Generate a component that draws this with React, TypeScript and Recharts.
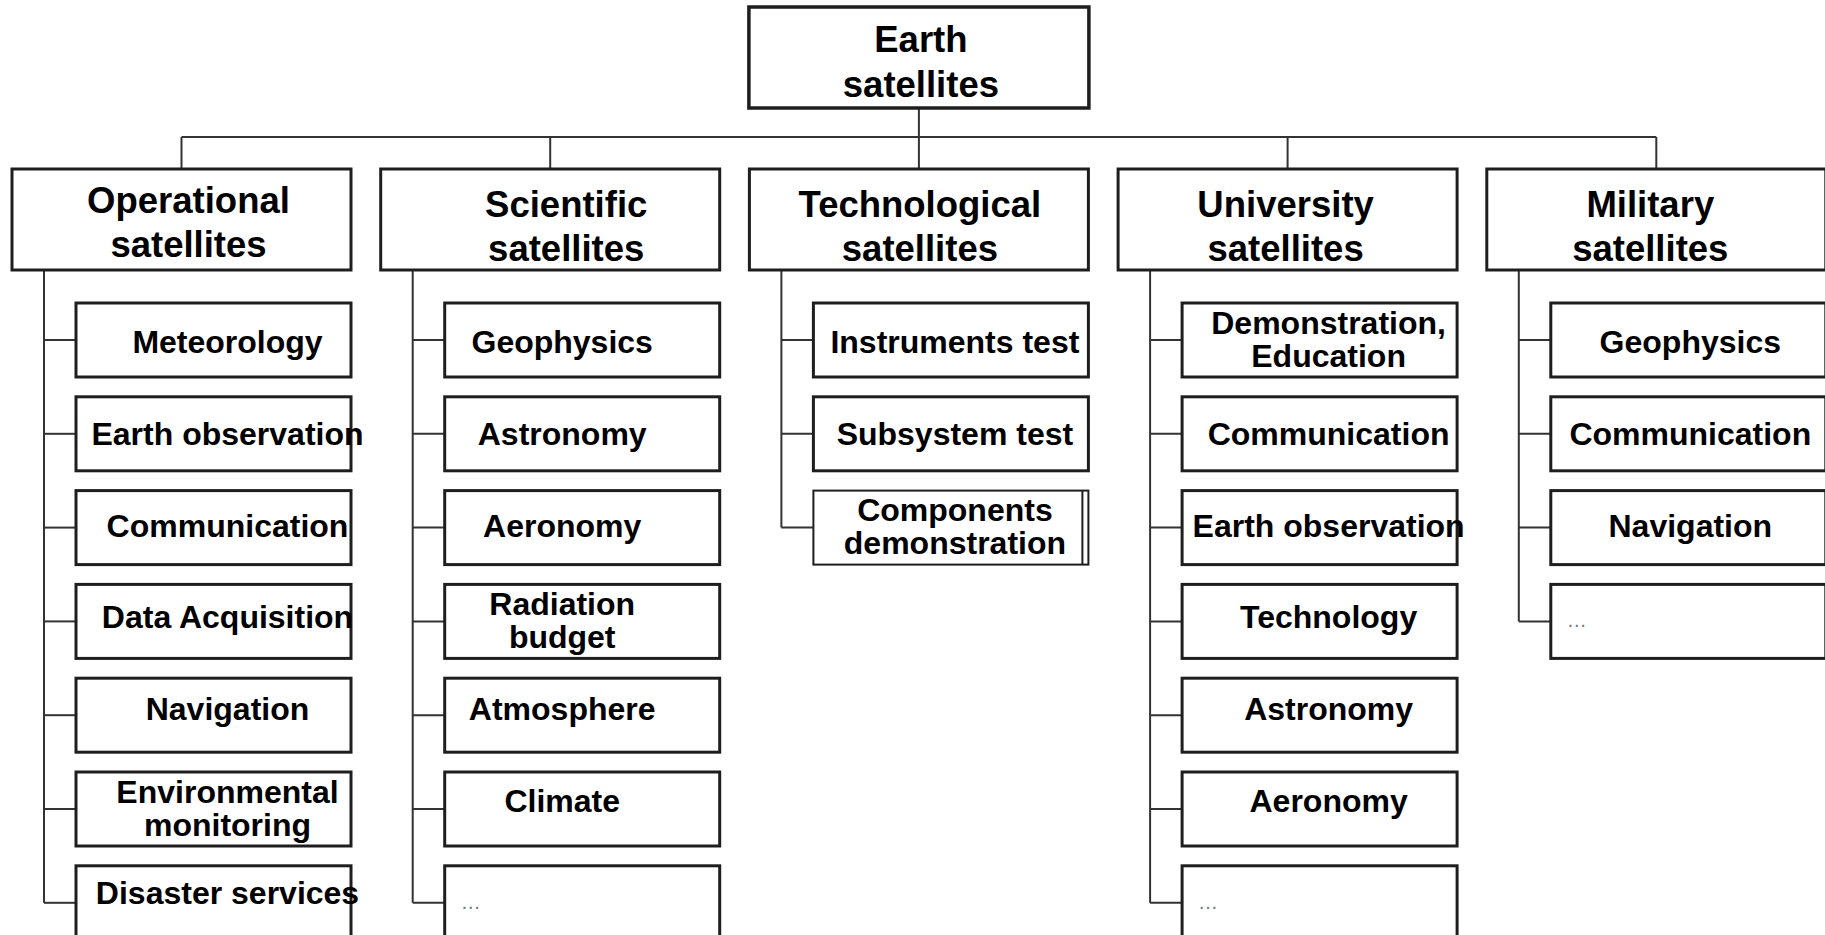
import React from 'react';
import { ScatterChart, Scatter, XAxis, YAxis, ReferenceLine } from 'recharts';

// tree content
const rootLabel = 'Earth\nsatellites';
const categories = [
  'Operational\nsatellites',
  'Scientific\nsatellites',
  'Technological\nsatellites',
  'University\nsatellites',
  'Military\nsatellites',
];
const operationalItems = ['Meteorology', 'Earth observation', 'Communication', 'Data Acquisition', 'Navigation', 'Environmental\nmonitoring', 'Disaster services'];
const scientificItems = ['Geophysics', 'Astronomy', 'Aeronomy', 'Radiation\nbudget', 'Atmosphere', 'Climate', '…'];
const technologicalItems = ['Instruments test', 'Subsystem test', 'Components\ndemonstration'];
const universityItems = ['Demonstration,\nEducation', 'Communication', 'Earth observation', 'Technology', 'Astronomy', 'Aeronomy', '…'];
const militaryItems = ['Geophysics', 'Communication', 'Navigation', '…'];

const itemsByCategory = [operationalItems, scientificItems, technologicalItems, universityItems, militaryItems];

// layout (px -> column / row units)
const W = 1825;
const H = 935;
const COL = 368.7;
const X0 = 181.5;
const ROW = 93.8;
const Y0 = 340;
const toCol = (px: number) => (px - X0) / COL;
const toRow = (px: number) => (px - Y0) / ROW;

const ROOT_COL = 2;
const ROOT_Y = toRow(57.5);
const CAT_Y = toRow(219.5);
const BUS_Y = toRow(137);
const ROOT_BOTTOM = toRow(108);
const CAT_TOP = toRow(169);
const CAT_BOTTOM = toRow(270);
const SPINE_DX = -137.5 / COL;
const CHILD_LEFT_DX = -105.5 / COL;
const CHILD_DX = 32 / COL;

const FONT = '"Liberation Sans", Arial, Helvetica, sans-serif';
const BOX_STROKE = '#1e1e1e';
const LINE_STROKE = '#333';

const catTextDx = [7, 16, 1, -2, -6];
const catTextDy = [-7, -3, -3, -3, -3];
const childTextDx = [14, -20, 4, 9, 2];

const rootData = [{ x: ROOT_COL, y: ROOT_Y, label: rootLabel }];
const categoryData = categories.map((label, i) => ({ x: i, y: CAT_Y, label, col: i }));
const childData = itemsByCategory.flatMap((items, col) =>
  items.map((label, row) => ({ x: col + CHILD_DX, y: row, label, col, row })),
);

const RootBox = (props: any) => {
  const { cx, cy, payload } = props;
  const lines = payload.label.split('\n');
  const w = 340;
  const h = 101;
  return (
    <g>
      <rect x={cx - w / 2} y={cy - h / 2} width={w} height={h} fill="#fff" stroke={BOX_STROKE} strokeWidth={3.5} />
      {lines.map((t: string, i: number) => (
        <text key={i} x={cx + 2} y={cy - 5.5 + i * 45} textAnchor="middle" fontFamily={FONT} fontWeight="bold" fontSize={36.5} fill="#000">
          {t}
        </text>
      ))}
    </g>
  );
};

const CategoryBox = (props: any) => {
  const { cx, cy, payload } = props;
  const lines = payload.label.split('\n');
  const w = 339;
  const h = 101;
  const c = payload.col;
  return (
    <g>
      <rect x={cx - w / 2} y={cy - h / 2} width={w} height={h} fill="#fff" stroke={BOX_STROKE} strokeWidth={3} />
      {lines.map((t: string, i: number) => (
        <text key={i} x={cx + catTextDx[c]} y={cy + catTextDy[c] + i * 44} textAnchor="middle" fontFamily={FONT} fontWeight="bold" fontSize={36.5} fill="#000">
          {t}
        </text>
      ))}
    </g>
  );
};

const ChildBox = (props: any) => {
  const { cx, cy, payload } = props;
  const { label, col, row } = payload;
  const w = 275;
  const h = 74;
  const left = cx - w / 2;
  const lines = label.split('\n');
  const base = cy + 13 - row * 2;
  const doubled = col === 2 && row === 2;
  return (
    <g>
      <rect x={left} y={cy - h / 2} width={w} height={h} fill="#fff" stroke={BOX_STROKE} strokeWidth={doubled ? 2 : 3} />
      {doubled && <line x1={left + w - 6} x2={left + w - 6} y1={cy - h / 2} y2={cy + h / 2} stroke={BOX_STROKE} strokeWidth={2} />}
      {label === '…' ? (
        <text x={left + 16} y={cy + 6} fontFamily={FONT} fontSize={20} fill="#777">
          {label}
        </text>
      ) : (
        lines.map((t: string, i: number) => (
          <text
            key={i}
            x={cx + childTextDx[col]}
            y={lines.length > 1 ? cy + 10 - 16.5 + i * 33 : base}
            textAnchor="middle"
            fontFamily={FONT}
            fontWeight="bold"
            fontSize={32}
            fill="#000"
          >
            {t}
          </text>
        ))
      )}
    </g>
  );
};

type Seg = [{ x: number; y: number }, { x: number; y: number }];

const connectors: Seg[] = [
  [{ x: ROOT_COL, y: ROOT_BOTTOM }, { x: ROOT_COL, y: BUS_Y }],
  [{ x: 0, y: BUS_Y }, { x: categories.length - 1, y: BUS_Y }],
  ...categories.map((_, i): Seg => [{ x: i, y: BUS_Y }, { x: i, y: CAT_TOP }]),
  ...itemsByCategory.map((items, i): Seg => [
    { x: i + SPINE_DX, y: CAT_BOTTOM },
    { x: i + SPINE_DX, y: items.length - 1 },
  ]),
  ...itemsByCategory.flatMap((items, i) =>
    items.map((_, r): Seg => [{ x: i + SPINE_DX, y: r }, { x: i + CHILD_LEFT_DX, y: r }]),
  ),
];

export default function App() {
  return (
    <div style={{ position: 'fixed', left: 0, top: 0, width: W, height: H, overflow: 'hidden', background: '#fff' }}>
      <ScatterChart width={W} height={H} margin={{ top: 0, right: 0, bottom: 0, left: 0 }}>
        <XAxis type="number" dataKey="x" domain={[toCol(0), toCol(W)]} allowDataOverflow hide />
        <YAxis type="number" dataKey="y" domain={[toRow(0), toRow(H)]} allowDataOverflow reversed hide />
        {connectors.map((seg, i) => (
          <ReferenceLine key={i} segment={seg} stroke={LINE_STROKE} strokeWidth={2} ifOverflow="visible" />
        ))}
        <Scatter data={rootData} shape={RootBox} isAnimationActive={false} />
        <Scatter data={categoryData} shape={CategoryBox} isAnimationActive={false} />
        <Scatter data={childData} shape={ChildBox} isAnimationActive={false} />
      </ScatterChart>
    </div>
  );
}
